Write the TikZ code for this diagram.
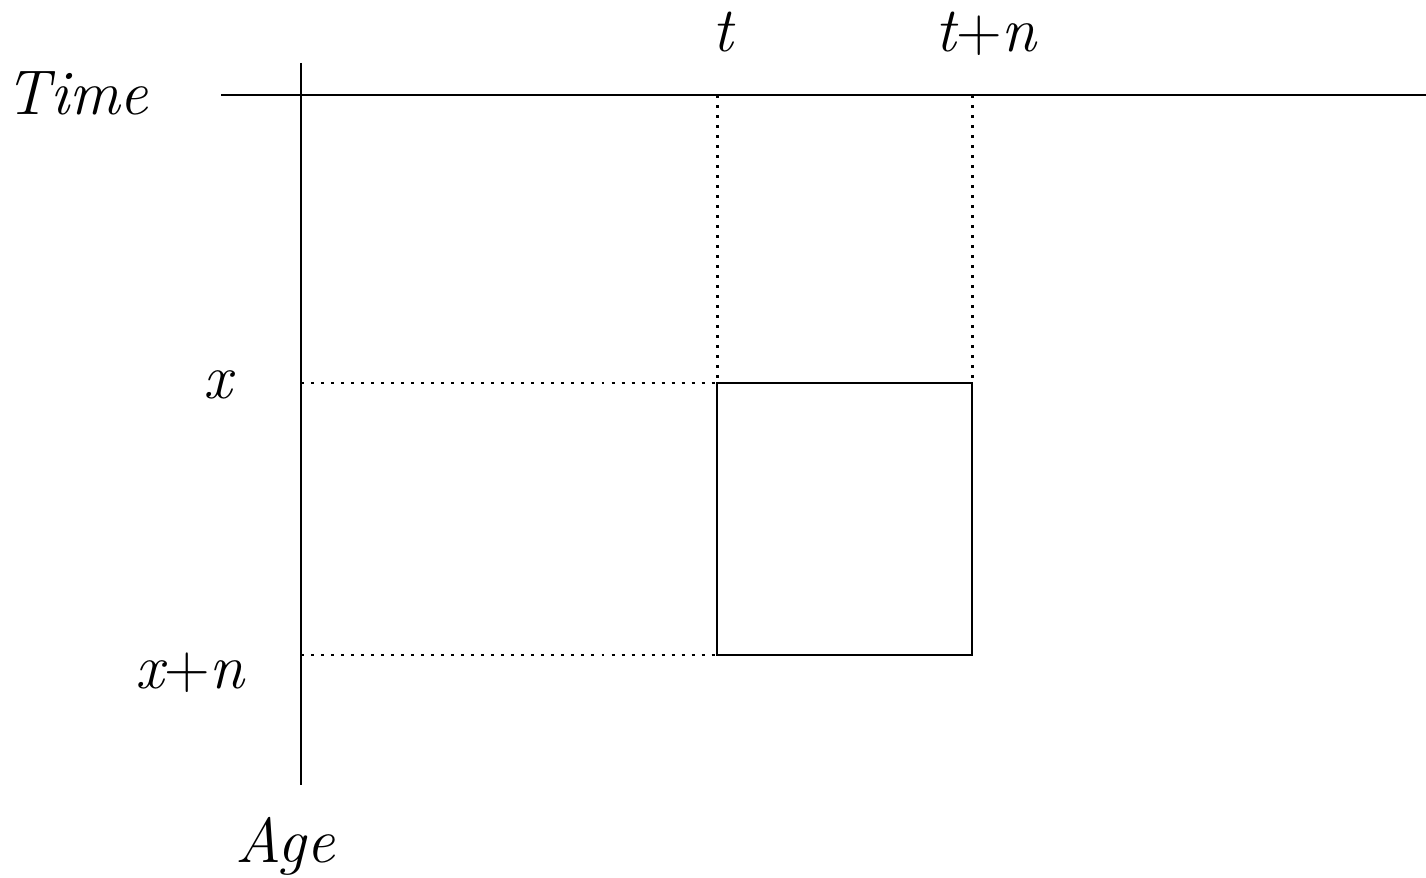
\documentclass[tikz,border=0pt]{standalone}
\usetikzlibrary{calc}

\begin{document}
\begin{tikzpicture}[line width=1.4pt,
  lab/.style={anchor=base,inner sep=0pt,font=\fontsize{36}{40}\selectfont\itshape},
  dots/.style={line width=1.7pt,dash pattern=on 1.7pt off 4pt}]
  \useasboundingbox (0,0) rectangle (28.52,17.54);
  % axes
  \coordinate (T0) at (4.42,15.64);
  \coordinate (T9) at (28.52,15.64);
  \coordinate (O0) at (6.02,16.28);
  \coordinate (O9) at (6.02,1.84);
  \draw (T0)--(T9);
  \draw (O0)--(O9);
  % box corners
  \coordinate (A) at (14.34,9.88);
  \coordinate (B) at (19.44,9.88);
  \coordinate (C) at (19.44,4.44);
  \coordinate (D) at (14.34,4.44);
  \coordinate (Ta) at (14.34,15.64);
  \coordinate (Tb) at (19.44,15.64);
  \coordinate (Xa) at (6.02,9.88);
  \coordinate (Xb) at (6.02,4.44);
  \draw[line cap=rect] (A)--(B)--(C)--(D)--cycle;
  \draw[dots] (Ta)--(A);
  \draw[dots] (Tb)--(B);
  \draw[dots] (Xa)--(A);
  \draw[dots] (Xb)--(D);
  % labels
  \node[lab] (time) at (1.54,15.24) {Time};
  \node[lab] (age) at (5.7,0.3) {Age};
  \node[lab] (t) at (14.46,16.5) {t};
  \node[lab] (tn) at (19.72,16.5) {t{\upshape+}n};
  \node[lab] (x) at (4.36,9.58) {x};
  \node[lab] (xn) at (3.8,3.78) {x{\upshape+}n};
\end{tikzpicture}
\end{document}
